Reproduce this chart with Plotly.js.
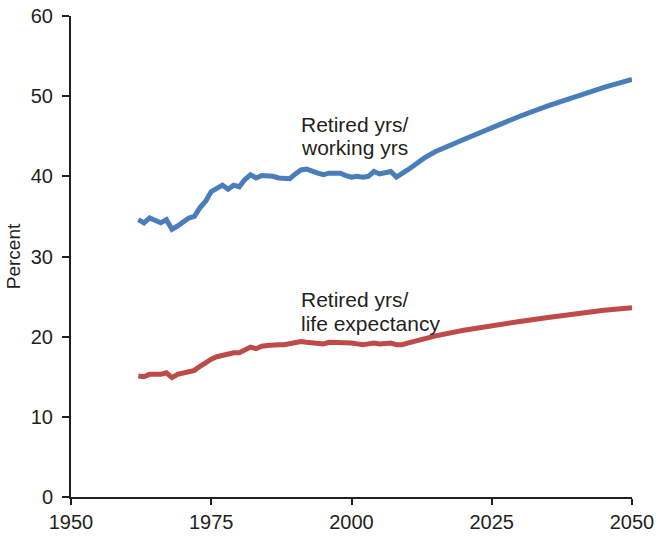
<!DOCTYPE html>
<html>
<head>
<meta charset="utf-8">
<script src="https://cdn.plot.ly/plotly-3.0.1.min.js"></script>
<style>
  html, body { margin: 0; padding: 0; background: #ffffff; }
  #chart { width: 659px; height: 536px; }
</style>
</head>
<body>
<div id="chart"></div>
<script>
const years = [1962,1963,1964,1965,1966,1967,1968,1969,1970,1971,1972,1973,1974,1975,1976,1977,1978,1979,1980,1981,1982,1983,1984,1985,1986,1987,1988,1989,1990,1991,1992,1993,1994,1995,1996,1997,1998,1999,2000,2001,2002,2003,2004,2005,2006,2007,2008,2009,2010,2011,2012,2013,2014,2015,2020,2025,2030,2035,2040,2045,2050];

const retiredOverWorking = [34.6,34.2,34.8,34.5,34.2,34.6,33.4,33.8,34.3,34.8,35.0,36.1,36.9,38.1,38.5,38.9,38.4,38.9,38.7,39.6,40.2,39.8,40.1,40.1,40.0,39.8,39.7,39.7,40.3,40.8,40.9,40.6,40.4,40.2,40.4,40.4,40.4,40.1,39.9,40.0,39.9,40.0,40.6,40.3,40.4,40.6,39.9,40.3,40.8,41.3,41.9,42.3,42.7,43.1,44.6,46.1,47.5,48.8,50.0,51.1,52.1];

const retiredOverLife = [15.1,15.0,15.3,15.3,15.3,15.5,14.9,15.3,15.5,15.7,15.8,16.3,16.8,17.2,17.5,17.7,17.8,18.0,18.0,18.3,18.7,18.5,18.8,18.9,19.0,19.0,19.0,19.1,19.2,19.4,19.3,19.2,19.2,19.1,19.3,19.3,19.3,19.2,19.2,19.1,19.0,19.1,19.2,19.1,19.2,19.2,19.0,19.0,19.2,19.4,19.5,19.7,19.9,20.1,20.8,21.4,21.9,22.4,22.9,23.3,23.6];

const xTicks = [1950, 1975, 2000, 2025, 2050];
const yTicks = [0, 10, 20, 30, 40, 50, 60];

// label lines and their anchor positions (year, percent)
const labelWorkingLines = ["Retired yrs/", "working yrs"];
const labelWorkingX = [1990.6, 1990.6];
const labelWorkingY = [46.5, 43.6];
const labelLifeLines = ["Retired yrs/", "life expectancy"];
const labelLifeX = [1990.6, 1990.6];
const labelLifeY = [24.6, 21.6];

const fontFamily = "Liberation Sans, Arial, sans-serif";
const textColor = "#231f20";
const fs = 20;

const traces = [
  {
    x: years, y: retiredOverWorking, type: "scatter", mode: "lines",
    line: { color: "#4a7ebb", width: 5 }, hoverinfo: "skip"
  },
  {
    x: years, y: retiredOverLife, type: "scatter", mode: "lines",
    line: { color: "#be4b48", width: 5 }, hoverinfo: "skip"
  }
];

function makeAnn(texts, xs, ys) {
  return texts.map((t, i) => ({
    x: xs[i], y: ys[i], xref: "x", yref: "y", text: t, showarrow: false,
    xanchor: "left", yanchor: "middle", align: "left",
    font: { family: fontFamily, size: 21, color: textColor }
  }));
}

const layout = {
  width: 659, height: 536,
  margin: { l: 71, r: 27, t: 16, b: 39 },
  paper_bgcolor: "#ffffff", plot_bgcolor: "#ffffff",
  showlegend: false,
  font: { family: fontFamily, color: textColor, size: fs },
  xaxis: {
    range: [1950, 2050], tickvals: xTicks, ticktext: xTicks.map(String),
    showgrid: false, zeroline: false, showline: true, linecolor: textColor, linewidth: 2,
    ticks: "outside", ticklen: 6, tickwidth: 2, tickcolor: textColor,
    tickfont: { family: fontFamily, size: fs, color: textColor }
  },
  yaxis: {
    range: [0, 60], tickvals: yTicks, ticktext: yTicks.map(String),
    showgrid: false, zeroline: false, showline: true, linecolor: textColor, linewidth: 2,
    ticks: "outside", ticklen: 7, tickwidth: 2, tickcolor: textColor,
    ticklabelstandoff: 5,
    tickfont: { family: fontFamily, size: fs, color: textColor },
    title: { text: "Percent", font: { family: fontFamily, size: 19, color: textColor }, standoff: 5 }
  },
  annotations: makeAnn(labelWorkingLines, labelWorkingX, labelWorkingY)
    .concat(makeAnn(labelLifeLines, labelLifeX, labelLifeY))
};

Plotly.newPlot("chart", traces, layout, { displayModeBar: false, staticPlot: true });
</script>
</body>
</html>
